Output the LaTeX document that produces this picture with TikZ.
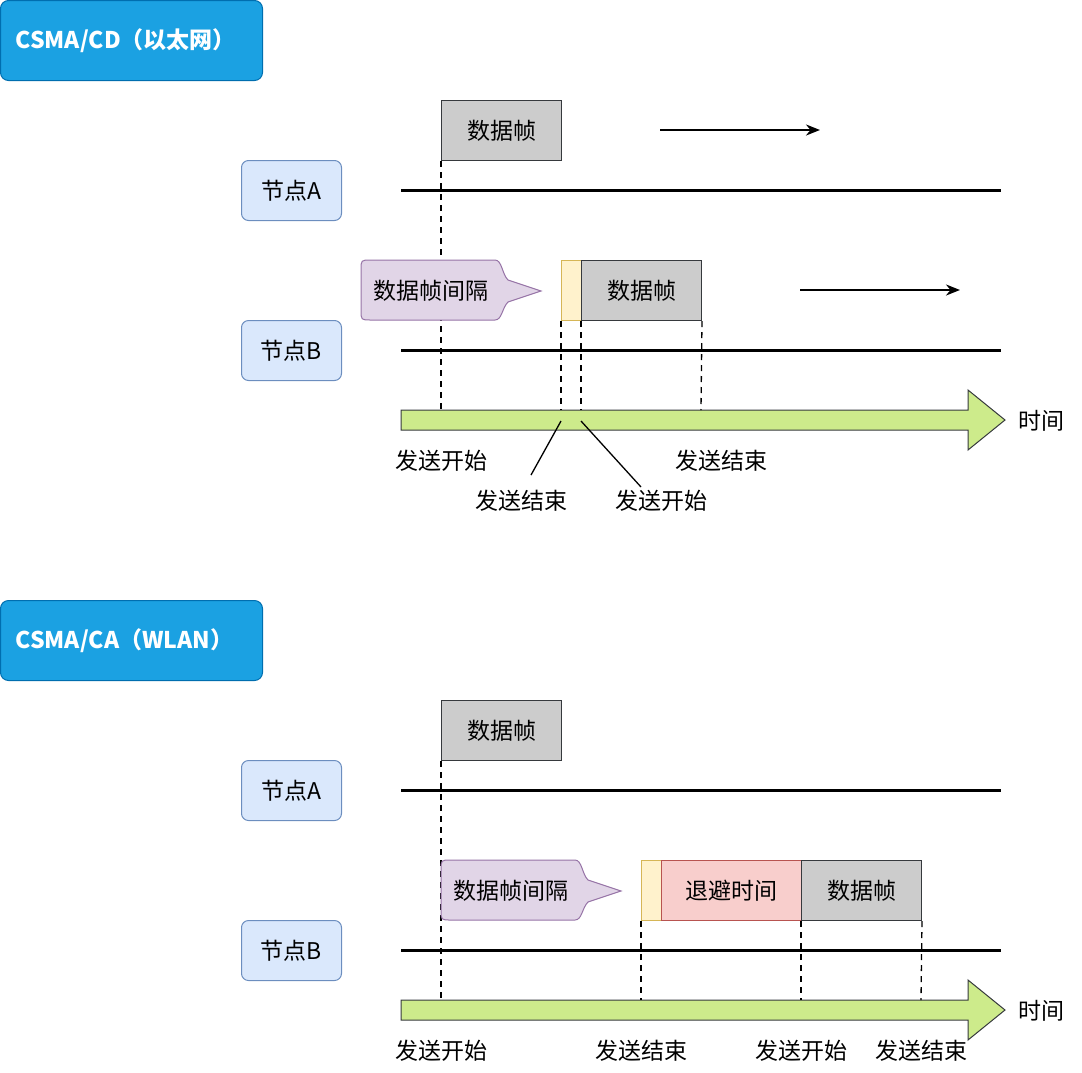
\documentclass[tikz,border=0pt]{standalone}
\usepackage{fontspec}
\setmainfont{Noto Sans CJK SC}
\usetikzlibrary{arrows.meta,calc}
\definecolor{titleblue}{HTML}{1BA1E2}
\definecolor{titleborder}{HTML}{006EAF}
\definecolor{nodefill}{HTML}{DAE8FC}
\definecolor{nodeborder}{HTML}{6C8EBF}
\definecolor{framefill}{HTML}{CCCCCC}
\definecolor{frameborder}{HTML}{36393D}
\definecolor{gapfill}{HTML}{FFF2CC}
\definecolor{gapborder}{HTML}{D6B656}
\definecolor{backfill}{HTML}{F8CECC}
\definecolor{backborder}{HTML}{B85450}
\definecolor{callfill}{HTML}{E1D5E7}
\definecolor{callborder}{HTML}{9673A6}
\definecolor{timefill}{HTML}{CDEB8B}
\begin{document}
\begin{tikzpicture}[x=1pt,y=-1pt,
  every node/.style={font=\fontsize{23}{26}\selectfont, inner sep=0pt},
  titlebox/.style={draw=titleborder, fill=titleblue, rounded corners=8pt, line width=1pt,
    minimum width=262pt, minimum height=80pt, text width=232pt, inner xsep=15pt, align=left,
    anchor=north west, text=white, font=\fontsize{23}{26}\selectfont\bfseries},
  nodebox/.style={draw=nodeborder, fill=nodefill, rounded corners=7pt, line width=1pt,
    minimum width=100pt, minimum height=60pt, anchor=north west},
  framebox/.style={draw=frameborder, fill=framefill, line width=1pt,
    minimum width=120pt, minimum height=60pt, anchor=north west},
  gapbox/.style={draw=gapborder, fill=gapfill, line width=1pt,
    minimum width=20pt, minimum height=60pt, anchor=north west},
  backbox/.style={draw=backborder, fill=backfill, line width=1pt,
    minimum width=140pt, minimum height=60pt, anchor=north west},
  medium/.style={line width=3pt},
  guide/.style={line width=1.3pt, dash pattern=on 6pt off 5pt},
  moving/.style={line width=2pt, -{Stealth[length=14pt,width=11pt]}},
  pointer/.style={line width=1.3pt},
  timearrow/.style={draw=frameborder, fill=timefill, line width=1pt},
  callout/.style={draw=callborder, fill=callfill, line width=1pt},
  lbl/.style={font=\fontsize{23}{26}\selectfont}
]
\useasboundingbox (0,0) rectangle (1082,1072);

% ================= CSMA/CD =================
\node[titlebox] (t1) at (0,0) {CSMA/CD（以太网）};

\node[framebox] (fA1) at (441,100) {数据帧};
\coordinate (mA1s) at (660,130);
\coordinate (mA1e) at (820,130);
\draw[moving] (mA1s) -- (mA1e);

\node[nodebox] (nA1) at (241,160) {节点A};
\coordinate (lA1s) at (401,190);
\coordinate (lA1e) at (1001,190);
\draw[medium] (lA1s) -- (lA1e);

\coordinate (ax1a) at (441,410);
\draw[guide] (fA1.south west) -- (ax1a);

% callout
\begin{scope}[shift={(361,260)}]
\draw[callout] (10,0) -- (134,0) .. controls (141,0) and (141,14) .. (147,20) -- (180,31)
  -- (147,42) .. controls (141,48) and (141,60) .. (134,60) -- (10,60)
  .. controls (0,60) .. (0,50) -- (0,10) .. controls (0,0) .. (10,0) -- cycle;
\node (c1) at (70,31) {数据帧间隔};
\end{scope}

\node[gapbox] (g1) at (561,260) {};
\node[framebox] (fB1) at (581,260) {数据帧};
\coordinate (mB1s) at (800,290);
\coordinate (mB1e) at (960,290);
\draw[moving] (mB1s) -- (mB1e);

\node[nodebox] (nB1) at (241,320) {节点B};
\coordinate (lB1s) at (401,350);
\coordinate (lB1e) at (1001,350);
\draw[medium] (lB1s) -- (lB1e);

% time arrow
\draw[timearrow] (401,410) -- (968,410) -- (968,390) -- (1005,420) -- (968,450) -- (968,430) -- (401,430) -- cycle;
\node (time1) at (1041,421) {时间};
\coordinate (ax1b) at (561,410);
\coordinate (ax1c) at (581,410);
\coordinate (ax1d) at (701,410);
\draw[guide] (g1.south west) -- (ax1b);
\draw[guide] (fB1.south west) -- (ax1c);
\draw[guide] (fB1.south east) -- (ax1d);

\node[lbl] (s1a) at (441,461) {发送开始};
\node[lbl] (e1a) at (521,501) {发送结束};
\node[lbl] (s1b) at (661,501) {发送开始};
\node[lbl] (e1b) at (721,461) {发送结束};
\coordinate (p1a) at (561,421);
\coordinate (p1b) at (581,421);
\coordinate (q1a) at (531,475);
\coordinate (q1b) at (641,487);
\draw[pointer] (p1a) -- (q1a);
\draw[pointer] (p1b) -- (q1b);

% ================= CSMA/CA =================
\node[titlebox] (t2) at (0,600) {CSMA/CA（WLAN）};

\node[framebox] (fA2) at (441,700) {数据帧};

\node[nodebox] (nA2) at (241,760) {节点A};
\coordinate (lA2s) at (401,790);
\coordinate (lA2e) at (1001,790);
\draw[medium] (lA2s) -- (lA2e);

\coordinate (ax2a) at (441,1000);
\draw[guide] (fA2.south west) -- (ax2a);

\begin{scope}[shift={(441,860)}]
\draw[callout] (10,0) -- (134,0) .. controls (141,0) and (141,14) .. (147,20) -- (180,31)
  -- (147,42) .. controls (141,48) and (141,60) .. (134,60) -- (10,60)
  .. controls (0,60) .. (0,50) -- (0,10) .. controls (0,0) .. (10,0) -- cycle;
\node (c2) at (70,31) {数据帧间隔};
\end{scope}

\node[gapbox] (g2) at (641,860) {};
\node[backbox] (b2) at (661,860) {退避时间};
\node[framebox] (fB2) at (801,860) {数据帧};

\node[nodebox] (nB2) at (241,920) {节点B};
\coordinate (lB2s) at (401,950);
\coordinate (lB2e) at (1001,950);
\draw[medium] (lB2s) -- (lB2e);

\draw[timearrow] (401,1000) -- (968,1000) -- (968,980) -- (1005,1010) -- (968,1040) -- (968,1020) -- (401,1020) -- cycle;
\node (time2) at (1041,1011) {时间};
\coordinate (ax2b) at (641,1000);
\coordinate (ax2c) at (801,1000);
\coordinate (ax2d) at (921,1000);
\draw[guide] (g2.south west) -- (ax2b);
\draw[guide] (fB2.south west) -- (ax2c);
\draw[guide] (fB2.south east) -- (ax2d);

\node[lbl] (s2a) at (441,1051) {发送开始};
\node[lbl] (e2a) at (641,1051) {发送结束};
\node[lbl] (s2b) at (801,1051) {发送开始};
\node[lbl] (e2b) at (921,1051) {发送结束};
\end{tikzpicture}
\end{document}
